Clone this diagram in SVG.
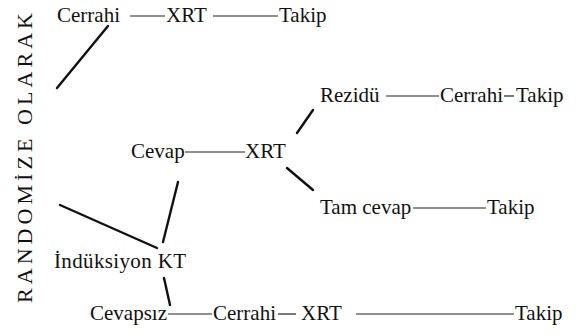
<svg xmlns="http://www.w3.org/2000/svg" width="580" height="336" viewBox="0 0 580 336" font-family="Times New Roman, Liberation Serif, serif">
  <rect width="580" height="336" fill="#fff"/>

  <!-- vertical side label -->
  <g id="randomize">
    <text font-family="Times New Roman, Liberation Serif, serif" font-size="22" fill="#111" transform="translate(32,303) rotate(-90)" textLength="290" lengthAdjust="spacing">RANDOMİZE OLARAK</text>
  </g>

  <!-- branch 1: surgery first -->
  <g id="row-surgery" font-family="Times New Roman, Liberation Serif, serif" font-size="21" fill="#111">
    <text x="57" y="22">Cerrahi</text>
    <text x="166" y="22">XRT</text>
    <text x="279" y="22">Takip</text>
  </g>

  <!-- residual disease branch -->
  <g id="row-residual" font-family="Times New Roman, Liberation Serif, serif" font-size="21" fill="#111">
    <text x="320" y="102">Rezidü</text>
    <text x="440" y="102">Cerrahi</text>
    <text x="516" y="102">Takip</text>
  </g>

  <g id="row-response" font-family="Times New Roman, Liberation Serif, serif" font-size="21" fill="#111">
    <text x="131" y="158">Cevap</text>
    <text x="245" y="158">XRT</text>
  </g>

  <g id="row-complete" font-family="Times New Roman, Liberation Serif, serif" font-size="21" fill="#111">
    <text x="320" y="214">Tam cevap</text>
    <text x="487" y="214">Takip</text>
  </g>

  <g id="induction" font-family="Times New Roman, Liberation Serif, serif" font-size="21" fill="#111">
    <text x="54" y="268" textLength="132" lengthAdjust="spacing">İndüksiyon KT</text>
  </g>

  <g id="row-noresponse" font-family="Times New Roman, Liberation Serif, serif" font-size="21" fill="#111">
    <text x="90" y="320">Cevapsız</text>
    <text x="213" y="320">Cerrahi</text>
    <text x="301" y="320">XRT</text>
    <text x="515" y="320">Takip</text>
  </g>

  <!-- connectors: thin rules between labels, heavy strokes for the branches -->
  <g id="connectors" fill="none">
    <g stroke="#222" stroke-width="1.2">
      <line x1="130" y1="16" x2="165" y2="16"/>
      <line x1="213" y1="16" x2="278" y2="16"/>
      <line x1="386" y1="96" x2="439" y2="96"/>
      <line x1="504" y1="96" x2="514" y2="96"/>
      <line x1="185" y1="152" x2="245" y2="152"/>
      <line x1="413" y1="208" x2="486" y2="208"/>
      <line x1="168" y1="314" x2="212" y2="314"/>
      <line x1="278" y1="314" x2="296" y2="314"/>
      <line x1="356" y1="314" x2="514" y2="314"/>
    </g>
    <g stroke="#111" stroke-width="2.4" stroke-linecap="round">
      <line x1="108" y1="26" x2="57" y2="88"/>
      <line x1="313" y1="110" x2="297" y2="133"/>
      <line x1="287" y1="168" x2="313" y2="190"/>
      <line x1="60" y1="205" x2="157" y2="248"/>
      <line x1="178" y1="182" x2="163" y2="242"/>
      <line x1="164" y1="278" x2="170" y2="305"/>
    </g>
  </g>
</svg>
